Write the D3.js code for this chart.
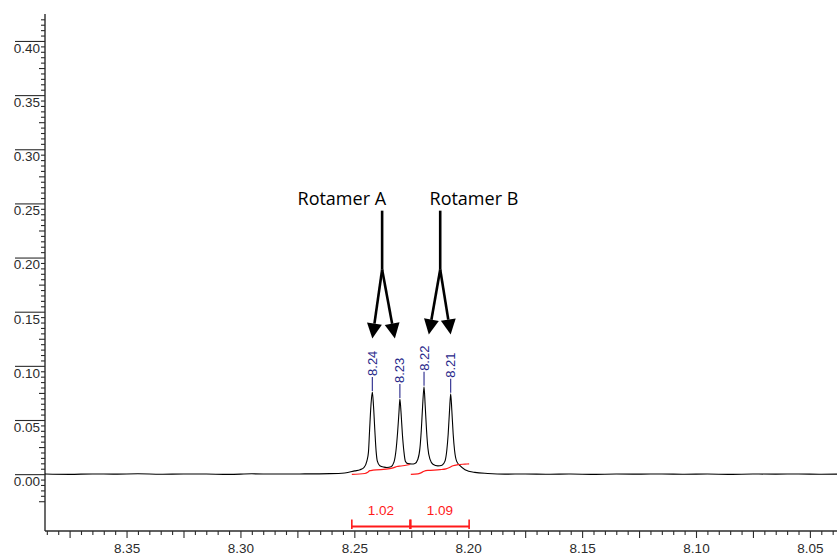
<!DOCTYPE html>
<html>
<head>
<meta charset="utf-8">
<script src="https://cdn.jsdelivr.net/npm/d3@7"></script>
<style>
  html, body { margin: 0; padding: 0; background: #fff; }
  svg { display: block; }
</style>
</head>
<body>
<svg id="chart" width="837" height="559"></svg>
<script>
// 1H NMR trace, 8.04–8.39 ppm: one aromatic proton split by two rotamers

// Spectrum trace (chemical shift in ppm, intensity)
const shiftPpm = [
  8.3858, 8.375, 8.365, 8.355, 8.345, 8.335, 8.325, 8.315, 8.305, 8.295, 8.285, 8.2740,
  8.2608, 8.2542, 8.2498, 8.2475, 8.2458, 8.2445, 8.2438, 8.2433, 8.2427, 8.2421,
  8.2416, 8.2410, 8.2404, 8.2399, 8.2388, 8.2370, 8.2357, 8.2339, 8.2326, 8.2317,
  8.2310, 8.2304, 8.2300, 8.2295, 8.2289, 8.2282, 8.2276, 8.2265, 8.2247, 8.2234,
  8.2221, 8.2212, 8.2206, 8.2200, 8.2194, 8.2189, 8.2183, 8.2177, 8.2168, 8.2155,
  8.2133, 8.2115, 8.2102, 8.2094, 8.2088, 8.2082, 8.2077, 8.2072, 8.2066, 8.2060,
  8.2051, 8.2036, 8.2014, 8.1971, 8.1914, 8.1839, 8.175, 8.165, 8.155, 8.145,
  8.135, 8.125, 8.115, 8.105, 8.095, 8.085, 8.075, 8.065, 8.055, 8.045, 8.0381
];
const intensity = [
  0.0001, -0.0002, 0.0002, 0.0000, 0.0003, -0.0001, 0.0002, 0.0001, -0.0002, 0.0003, 0.0001, 0.0002,
  0.0005, 0.0011, 0.0030, 0.0041, 0.0060, 0.0120, 0.0203, 0.0406, 0.0636, 0.0759,
  0.0636, 0.0406, 0.0203, 0.0120, 0.0078, 0.0065, 0.0062, 0.0069, 0.0111, 0.0221,
  0.0387, 0.0571, 0.0694, 0.0571, 0.0369, 0.0203, 0.0120, 0.0097, 0.0094, 0.0099,
  0.0138, 0.0240, 0.0406, 0.0636, 0.0806, 0.0636, 0.0406, 0.0240, 0.0138, 0.0092,
  0.0076, 0.0083, 0.0120, 0.0221, 0.0369, 0.0590, 0.0742, 0.0590, 0.0369, 0.0221,
  0.0120, 0.0078, 0.0041, 0.0016, 0.0006, 0.0000, 0.0002, -0.0001, 0.0001, -0.0002,
  0.0001, 0.0000, 0.0002, -0.0001, 0.0001, -0.0002, 0.0001, 0.0000, 0.0002, -0.0001, 0.0000
];

// Picked peaks
const peakShift  = [8.2421, 8.2300, 8.2194, 8.2077];
const peakHeight = [0.0759, 0.0694, 0.0806, 0.0742];

// Integrals: ranges, values and the running-integral curve (fraction of total)
const integralStart = [8.2511, 8.2252];
const integralEnd   = [8.2256, 8.1996];
const integralValue = [1.02, 1.09];
const integralCurvePpm = [
  [8.2511, 8.2454, 8.2441, 8.2432, 8.2418, 8.2344, 8.2326, 8.2313, 8.2295, 8.2256],
  [8.2252, 8.2221, 8.2208, 8.2194, 8.2177, 8.2124, 8.2098, 8.2080, 8.2067, 8.2045, 8.2014, 8.1996]
];
const integralCurveFrac = [
  [0, 0.10, 0.23, 0.38, 0.43, 0.58, 0.68, 0.80, 0.85, 1.0],
  [0, 0.05, 0.15, 0.30, 0.38, 0.45, 0.53, 0.68, 0.82, 0.92, 0.97, 1.0]
];

// Rotamer call-outs (ppm, intensity units)
const rotamerNames   = ["Rotamer A", "Rotamer B"];
const rotamerLabelPpm = [8.2555, 8.1975];
const rotamerStemPpm  = [8.2378, 8.2123];
const rotamerTipPpm   = [[8.2421, 8.2322], [8.2173, 8.2077]];
const rotamerTipLevel = [0.1253, 0.1290];
const stemTopLevel  = 0.2433;
const stemKneeLevel = 0.1889;
const labelLevel    = 0.2488;

// Axis ticks
const xTickLabels = [8.35, 8.30, 8.25, 8.20, 8.15, 8.10, 8.05];
const yTickLabels = [0.00, 0.05, 0.10, 0.15, 0.20, 0.25, 0.30, 0.35, 0.40];

const svg = d3.select("#chart");
const plotLeft = 45, plotRight = 837, plotTop = 14, plotBottom = 531;

const x = d3.scaleLinear().domain([8.3858, 8.0381]).range([plotLeft, plotRight]);
const y = d3.scaleLinear().domain([-0.0525, 0.4249]).range([plotBottom, plotTop]);

const axisColor = "#2b2b2b";
const tickFont = "Liberation Sans, Arial, sans-serif";

// ---- y axis ----
const yMinor = d3.range(-25, 425, 5).map(v => +(v / 1000).toFixed(3));
const yMid = yMinor.filter(v => Math.abs(Math.round(v * 1000) % 25) === 0);
const yMinorOnly = yMinor.filter(v => !yMid.includes(v));

function styleAxis(g) {
  g.select(".domain").attr("stroke", axisColor).attr("stroke-width", 1.4);
  g.selectAll(".tick line").attr("stroke", axisColor).attr("stroke-width", 1.1);
}

svg.append("g")
  .attr("transform", `translate(${plotLeft},0)`)
  .call(d3.axisLeft(y).tickValues(yMinorOnly).tickSize(4).tickSizeOuter(0).tickFormat(""))
  .call(g => { styleAxis(g); g.select(".domain").remove(); });

svg.append("g")
  .attr("transform", `translate(${plotLeft},0)`)
  .call(d3.axisLeft(y).tickValues(yMid.filter(v => !yTickLabels.includes(v))).tickSize(6).tickFormat(""))
  .call(g => { styleAxis(g); g.select(".domain").remove(); });

svg.append("g")
  .attr("transform", `translate(${plotLeft},0)`)
  .call(d3.axisLeft(y).tickValues(yTickLabels).tickSize(30).tickSizeOuter(0).tickFormat(d3.format(".2f")))
  .call(g => {
    styleAxis(g);
    g.select(".domain").attr("d", `M0,${plotTop}V${plotBottom}`);
    g.selectAll(".tick text")
      .attr("x", -5).attr("y", 7)
      .attr("fill", axisColor)
      .style("font-family", tickFont).style("font-size", "13.5px");
  });

// ---- x axis ----
const xMinor = d3.range(8040, 8390, 5).map(v => +(v / 1000).toFixed(3));
const xLong = xMinor.filter(v => Math.round(v * 1000) % 25 === 0);
const xShort = xMinor.filter(v => !xLong.includes(v));

svg.append("g")
  .attr("transform", `translate(0,${plotBottom})`)
  .call(d3.axisBottom(x).tickValues(xShort).tickSize(4).tickFormat(""))
  .call(g => { styleAxis(g); g.select(".domain").remove(); });

svg.append("g")
  .attr("transform", `translate(0,${plotBottom})`)
  .call(d3.axisBottom(x).tickValues(xLong).tickSize(7).tickFormat(""))
  .call(g => { styleAxis(g); g.select(".domain").attr("d", `M${plotLeft},0H${plotRight}`); });

svg.append("g")
  .attr("transform", `translate(0,${plotBottom})`)
  .call(d3.axisBottom(x).tickValues(xTickLabels).tickSize(0).tickFormat(d3.format(".2f")))
  .call(g => {
    g.select(".domain").remove();
    g.selectAll(".tick text")
      .attr("y", 12)
      .attr("fill", axisColor)
      .style("font-family", tickFont).style("font-size", "13.5px");
  });

// ---- spectrum ----
const spectrum = shiftPpm.map((p, i) => [p, intensity[i]]);
svg.append("path")
  .datum(spectrum)
  .attr("fill", "none")
  .attr("stroke", "#000")
  .attr("stroke-width", 1.1)
  .attr("stroke-linejoin", "round")
  .attr("d", d3.line().x(d => x(d[0])).y(d => y(d[1])).curve(d3.curveMonotoneX));

// ---- integrals ----
const integralScale = 0.00903;  // intensity units per integral unit
const red = "#ff1a1a";
integralValue.forEach((val, k) => {
  const pts = integralCurvePpm[k].map((p, i) => [p, -0.0003 + integralCurveFrac[k][i] * val * integralScale]);
  svg.append("path")
    .datum(pts)
    .attr("fill", "none")
    .attr("stroke", red)
    .attr("stroke-width", 1.2)
    .attr("d", d3.line().x(d => x(d[0])).y(d => y(d[1])).curve(d3.curveMonotoneX));

  const x0 = x(integralStart[k]), x1 = x(integralEnd[k]);
  const by = plotBottom - 4.5;
  const br = svg.append("g").attr("stroke", red).attr("stroke-width", 2);
  br.append("line").attr("x1", x0).attr("x2", x1).attr("y1", by).attr("y2", by);
  br.append("line").attr("x1", x0).attr("x2", x0).attr("y1", by - 7).attr("y2", by + 2.5).attr("stroke-width", 1.6);
  br.append("line").attr("x1", x1).attr("x2", x1).attr("y1", by - 7).attr("y2", by + 2.5).attr("stroke-width", 1.6);

  svg.append("text")
    .attr("x", (x0 + x1) / 2)
    .attr("y", by - 11.5)
    .attr("text-anchor", "middle")
    .attr("fill", red)
    .style("font-family", tickFont).style("font-size", "13.5px")
    .text(d3.format(".2f")(val));
});

// ---- peak picks ----
const navy = "#27278a";
peakShift.forEach((p, i) => {
  const px = x(p), py = y(peakHeight[i]);
  svg.append("line")
    .attr("x1", px).attr("x2", px)
    .attr("y1", py - 1).attr("y2", py - 15)
    .attr("stroke", navy).attr("stroke-width", 1.1);
  svg.append("text")
    .attr("transform", `translate(${px},${py - 16}) rotate(-90)`)
    .attr("dy", "0.35em")
    .attr("text-anchor", "start")
    .attr("fill", navy)
    .style("font-family", tickFont).style("font-size", "13px")
    .text(d3.format(".2f")(p));
});

// ---- rotamer call-outs ----
const calloutFont = "'Open Sans', Lato, sans-serif";
rotamerNames.forEach((name, k) => {
  svg.append("text")
    .attr("x", x(rotamerLabelPpm[k]))
    .attr("y", y(labelLevel))
    .attr("text-anchor", "middle")
    .attr("fill", "#000")
    .style("font-family", calloutFont).style("font-size", "18px")
    .text(name);

  const sx = x(rotamerStemPpm[k]);
  const kneeY = y(stemKneeLevel);
  svg.append("line")
    .attr("x1", sx).attr("x2", sx)
    .attr("y1", y(stemTopLevel)).attr("y2", kneeY)
    .attr("stroke", "#000").attr("stroke-width", 2.6);

  rotamerTipPpm[k].forEach(tp => {
    const tx = x(tp), ty = y(rotamerTipLevel[k]);
    const dx = tx - sx, dy = ty - kneeY;
    const len = Math.hypot(dx, dy);
    const ux = dx / len, uy = dy / len;
    const headLen = 15, headHalf = 7.5;
    const bx = tx - ux * headLen, byy = ty - uy * headLen;
    svg.append("line")
      .attr("x1", sx).attr("y1", kneeY)
      .attr("x2", bx).attr("y2", byy)
      .attr("stroke", "#000").attr("stroke-width", 2.6);
    svg.append("path")
      .attr("d", `M${tx},${ty}L${bx - uy * headHalf},${byy + ux * headHalf}L${bx + uy * headHalf},${byy - ux * headHalf}Z`)
      .attr("fill", "#000");
  });
});
</script>
</body>
</html>
